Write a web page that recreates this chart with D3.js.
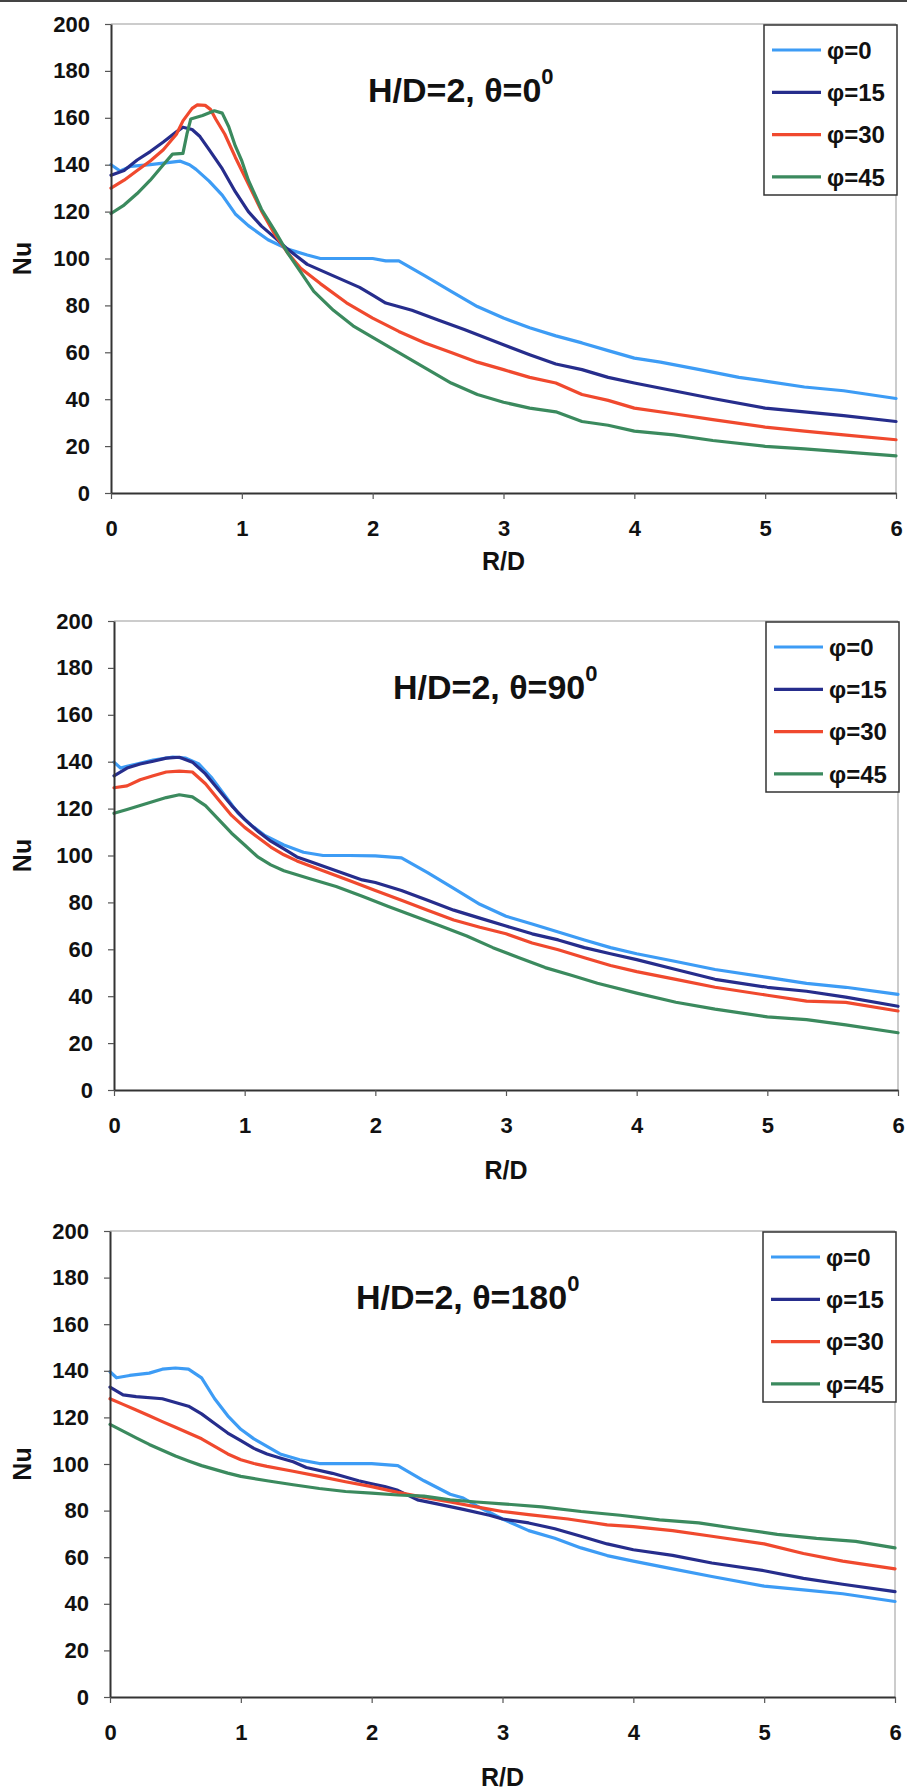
<!DOCTYPE html>
<html>
<head>
<meta charset="utf-8">
<script src="https://cdn.jsdelivr.net/npm/d3@7"></script>
<style>
  html, body { margin: 0; padding: 0; background: #fff; }
  svg { display: block; }
  text { font-family: "Liberation Sans", Arial, sans-serif; font-weight: bold; fill: #111; }
</style>
</head>
<body>
<div id="chart"></div>
<script>
// ---------- data ----------
const seriesNames = ["φ=0", "φ=15", "φ=30", "φ=45"];
const seriesColors = ["#3d9cf5", "#262d8c", "#f0492e", "#3b8a5e"];
const xTicks = [0, 1, 2, 3, 4, 5, 6];
const yTicks = [0, 20, 40, 60, 80, 100, 120, 140, 160, 180, 200];
const panelTitles = ["H/D=2, θ=0", "H/D=2, θ=90", "H/D=2, θ=180"];
const titleSup = "0";

// Panel 1: theta = 0
const p1_phi0 = [[0,140],[0.07,137.3],[0.15,139.3],[0.3,140],[0.45,141],[0.53,141.5],[0.6,140],[0.65,138],[0.75,133],[0.85,127],[0.95,119],[1.05,114],[1.2,108],[1.35,104],[1.5,101.5],[1.6,100],[1.8,100],[2.0,100],[2.1,99],[2.2,99],[2.4,92.6],[2.6,86],[2.8,79.5],[3.0,74.6],[3.2,70.5],[3.4,67],[3.6,64],[3.8,60.7],[4.0,57.5],[4.2,55.8],[4.5,52.6],[4.8,49.3],[5.0,47.7],[5.3,45.2],[5.6,43.6],[6.0,40.3]];
const p1_phi15 = [[0,135.5],[0.1,137.5],[0.2,142],[0.3,145.6],[0.4,149.7],[0.5,154],[0.55,156],[0.62,155],[0.68,152],[0.75,146.4],[0.85,138.3],[0.95,128.5],[1.05,120],[1.15,113.8],[1.25,109],[1.35,104],[1.5,97.5],[1.7,92.6],[1.9,87.7],[2.0,84.4],[2.1,81],[2.3,77.9],[2.5,73.8],[2.7,69.7],[3.0,63.2],[3.2,59],[3.4,55],[3.6,52.6],[3.8,49.3],[4.0,46.9],[4.3,43.6],[4.6,40.3],[5.0,36.2],[5.3,34.6],[5.6,33],[6.0,30.5]];
const p1_phi30 = [[0,130],[0.1,133.4],[0.2,137.5],[0.3,141.6],[0.4,146.4],[0.5,153],[0.55,158.7],[0.62,164],[0.66,165.5],[0.72,165.3],[0.76,163.6],[0.8,159.5],[0.87,153],[0.95,143.2],[1.05,131.8],[1.15,120.3],[1.25,110.5],[1.35,102.4],[1.45,95.8],[1.6,89.3],[1.8,81.1],[2.0,74.6],[2.2,68.9],[2.4,64],[2.6,59.9],[2.8,55.8],[3.0,52.6],[3.2,49.3],[3.4,46.9],[3.6,42],[3.8,39.5],[4.0,36.2],[4.3,33.8],[4.6,31.3],[5.0,28.1],[5.3,26.4],[5.6,24.8],[6.0,22.7]];
const p1_phi45 = [[0,119.2],[0.1,122.8],[0.2,127.7],[0.3,133.4],[0.4,140],[0.47,144.5],[0.55,144.8],[0.58,153],[0.61,159.5],[0.7,161],[0.79,163],[0.85,162],[0.9,156.2],[0.95,148],[1.0,141.6],[1.05,133.4],[1.15,121],[1.25,112],[1.35,102.4],[1.45,94.2],[1.55,86],[1.7,77.9],[1.85,71.3],[2.0,66.4],[2.2,59.9],[2.4,53.4],[2.6,46.9],[2.8,42],[3.0,38.7],[3.2,36.2],[3.4,34.6],[3.6,30.5],[3.8,28.9],[4.0,26.4],[4.3,24.8],[4.6,22.4],[5.0,19.9],[5.3,18.8],[5.6,17.5],[6.0,15.8]];

// Panel 2: theta = 90
const p2_phi0 = [[0,139.8],[0.05,137.3],[0.1,138],[0.3,140.7],[0.45,142],[0.55,141.5],[0.65,139],[0.75,133],[0.85,125.5],[0.95,118],[1.05,112.9],[1.15,108.7],[1.3,104.5],[1.45,101.4],[1.6,100],[1.8,100],[2.0,99.8],[2.2,99],[2.4,92.7],[2.6,86],[2.8,79.2],[3.0,74.1],[3.2,70.8],[3.4,67.4],[3.6,64],[3.8,60.7],[4.0,58.1],[4.3,54.8],[4.6,51.4],[5.0,48],[5.3,45.5],[5.6,43.8],[6.0,40.8]];
const p2_phi15 = [[0,134],[0.1,137.3],[0.2,139],[0.3,140.2],[0.4,141.5],[0.5,141.9],[0.6,139.8],[0.7,134.8],[0.8,128],[0.9,121.3],[1.0,115.4],[1.1,110.4],[1.2,106.1],[1.3,102.8],[1.4,99.4],[1.5,97.4],[1.7,93.5],[1.9,89.6],[2.0,88.5],[2.2,85.1],[2.4,80.9],[2.6,76.7],[2.8,73.3],[3.0,69.9],[3.2,66.6],[3.4,64],[3.6,60.7],[3.8,58.1],[4.0,55.6],[4.3,51.4],[4.6,47.2],[5.0,43.8],[5.3,42.1],[5.6,39.6],[6.0,35.7]];
const p2_phi30 = [[0,128.9],[0.1,129.7],[0.2,132.3],[0.3,134],[0.4,135.6],[0.5,136],[0.6,135.6],[0.7,130.6],[0.8,123.8],[0.9,117.1],[1.0,112],[1.1,107.8],[1.2,103.6],[1.3,100.3],[1.4,97.7],[1.6,93.5],[1.8,89.3],[2.0,85.1],[2.2,80.9],[2.4,76.7],[2.6,72.5],[2.8,69.4],[3.0,66.6],[3.2,62.7],[3.4,59.8],[3.6,56.4],[3.8,53.1],[4.0,50.5],[4.3,47.2],[4.6,43.8],[5.0,40.4],[5.3,37.9],[5.6,37.4],[6.0,33.7]];
const p2_phi45 = [[0,118],[0.1,119.6],[0.2,121.3],[0.3,123],[0.4,124.7],[0.5,125.9],[0.6,125],[0.7,121.3],[0.8,115.4],[0.9,109.5],[1.0,104.5],[1.1,99.4],[1.2,96],[1.3,93.5],[1.5,90.1],[1.7,86.8],[1.9,82.6],[2.1,78.3],[2.3,74.1],[2.5,69.9],[2.7,65.7],[2.9,60.7],[3.1,56.4],[3.3,52.2],[3.5,48.9],[3.7,45.5],[4.0,41.3],[4.3,37.4],[4.6,34.5],[5.0,31.2],[5.3,30],[5.6,27.8],[6.0,24.4]];

// Panel 3: theta = 180
const p3_phi0 = [[0,139.6],[0.05,137],[0.15,138],[0.3,139],[0.4,140.7],[0.5,141.2],[0.6,140.7],[0.7,137],[0.8,128],[0.9,120.7],[1.0,114.9],[1.1,110.8],[1.2,107.6],[1.3,104.3],[1.45,101.8],[1.6,100.2],[1.8,100.2],[2.0,100.2],[2.2,99.3],[2.4,92.8],[2.6,87],[2.7,85.4],[2.8,82.1],[3.0,76.4],[3.2,71.4],[3.4,68.1],[3.6,64],[3.8,60.7],[4.0,58.3],[4.3,55],[4.6,51.7],[5.0,47.6],[5.3,46],[5.6,44.3],[6.0,41]];
const p3_phi15 = [[0,133],[0.1,129.7],[0.2,128.9],[0.4,128],[0.5,126.4],[0.6,124.8],[0.7,121.5],[0.8,117.4],[0.9,113.3],[1.0,110],[1.1,106.7],[1.2,104.3],[1.3,102.6],[1.4,101],[1.5,98.5],[1.7,96],[1.9,92.8],[2.0,91.5],[2.1,90.3],[2.2,88.7],[2.35,84.6],[2.5,82.9],[2.7,80.5],[2.9,78],[3.0,76.4],[3.2,74.7],[3.4,72.2],[3.6,69],[3.8,65.7],[4.0,63.2],[4.3,60.8],[4.6,57.5],[5.0,54.2],[5.3,50.9],[5.6,48.4],[6.0,45.2]];
const p3_phi30 = [[0,128],[0.1,125.6],[0.2,123.2],[0.3,120.7],[0.4,118.2],[0.5,115.8],[0.6,113.3],[0.7,110.8],[0.8,107.6],[0.9,104.3],[1.0,101.8],[1.1,100.2],[1.2,99],[1.4,96.9],[1.6,94.7],[1.8,92.4],[2.0,90.3],[2.2,87.8],[2.4,85.7],[2.6,83.7],[2.8,81.6],[3.0,79.6],[3.2,78.3],[3.5,76.4],[3.8,73.9],[4.0,73.1],[4.3,71.4],[4.6,69],[5.0,65.7],[5.3,61.6],[5.6,58.3],[6.0,55]];
const p3_phi45 = [[0,117],[0.1,114.1],[0.2,111.2],[0.3,108.4],[0.4,105.9],[0.5,103.4],[0.6,101.3],[0.7,99.3],[0.8,97.7],[0.9,96.1],[1.0,94.7],[1.2,92.8],[1.4,91.1],[1.6,89.5],[1.8,88.2],[2.0,87.5],[2.2,86.7],[2.4,86.2],[2.6,84.6],[2.8,83.7],[3.0,82.9],[3.3,81.6],[3.6,79.6],[3.9,78],[4.2,76],[4.5,74.7],[4.8,72.2],[5.1,69.8],[5.4,68.1],[5.7,66.8],[6.0,64]];

const panelData = [
  [p1_phi0, p1_phi15, p1_phi30, p1_phi45],
  [p2_phi0, p2_phi15, p2_phi30, p2_phi45],
  [p3_phi0, p3_phi15, p3_phi30, p3_phi45]
];

// ---------- layout ----------
const W = 907, H = 1790;
const layouts = [
  { left: 111, right: 896, top: 24, bottom: 493, titleX: 368, xLabelDy: 77 },
  { left: 114, right: 898, top: 621, bottom: 1090, titleX: 393, xLabelDy: 89 },
  { left: 110, right: 895, top: 1231, bottom: 1697, titleX: 356, xLabelDy: 89 }
];

const svg = d3.select("#chart").append("svg").attr("width", W).attr("height", H);
svg.append("rect").attr("x", 0).attr("y", 0).attr("width", W).attr("height", H).attr("fill", "#fff");
svg.append("rect").attr("x", 0).attr("y", 0).attr("width", W).attr("height", 2).attr("fill", "#444");

layouts.forEach((L, pi) => {
  const x = d3.scaleLinear().domain([0, 6]).range([L.left, L.right]);
  const y = d3.scaleLinear().domain([0, 200]).range([L.bottom, L.top]);
  const g = svg.append("g");

  // light top/right frame
  g.append("line").attr("x1", L.left).attr("x2", L.right).attr("y1", L.top).attr("y2", L.top)
    .attr("stroke", "#999").attr("stroke-width", 1);
  g.append("line").attr("x1", L.right).attr("x2", L.right).attr("y1", L.top).attr("y2", L.bottom)
    .attr("stroke", "#999").attr("stroke-width", 1);

  // lines
  const line = d3.line().x(d => x(d[0])).y(d => y(d[1]));
  panelData[pi].forEach((s, si) => {
    g.append("path").datum(s).attr("d", line).attr("fill", "none")
      .attr("stroke", seriesColors[si]).attr("stroke-width", 3.2)
      .attr("stroke-linejoin", "round").attr("stroke-linecap", "round");
  });

  // axes
  const ya = g.append("g").attr("transform", `translate(${L.left},0)`)
    .call(d3.axisLeft(y).tickValues(yTicks).tickSize(6).tickSizeOuter(0).tickPadding(15));
  const xa = g.append("g").attr("transform", `translate(0,${L.bottom})`)
    .call(d3.axisBottom(x).tickValues(xTicks).tickSize(6).tickSizeOuter(0).tickPadding(21).tickFormat(d3.format("d")));
  [ya, xa].forEach(a => {
    a.select(".domain").attr("stroke", "#333").attr("stroke-width", 2);
    a.selectAll(".tick line").attr("stroke", "#555").attr("stroke-width", 1.2);
    a.selectAll(".tick text").attr("font-size", 22).attr("font-family", "'Liberation Sans', Arial, sans-serif")
      .attr("font-weight", "bold").attr("fill", "#111");
  });

  // axis titles
  g.append("text").attr("x", (L.left + L.right) / 2).attr("y", L.bottom + L.xLabelDy)
    .attr("text-anchor", "middle").attr("font-size", 25).text("R/D");
  g.append("text").attr("transform", `translate(31,${(L.top + L.bottom) / 2}) rotate(-90)`)
    .attr("text-anchor", "middle").attr("font-size", 25).text("Nu");

  // panel title
  const t = g.append("text").attr("x", L.titleX).attr("y", L.top + 78).attr("font-size", 34);
  t.append("tspan").text(panelTitles[pi]);
  t.append("tspan").attr("dy", -18).attr("font-size", 22).text(titleSup);

  // legend
  const bx = L.right - 132, by = L.top + 1, bw = 133, bh = 170;
  const lg = g.append("g");
  lg.append("rect").attr("x", bx).attr("y", by).attr("width", bw).attr("height", bh)
    .attr("fill", "#fff").attr("stroke", "#333").attr("stroke-width", 1.5);
  seriesNames.forEach((n, si) => {
    const yy = L.top + 26 + si * 42.3;
    lg.append("line").attr("x1", bx + 8).attr("x2", bx + 57).attr("y1", yy).attr("y2", yy)
      .attr("stroke", seriesColors[si]).attr("stroke-width", 3.2);
    lg.append("text").attr("x", bx + 63).attr("y", yy).attr("dy", "0.36em")
      .attr("font-size", 24).text(n);
  });
});
</script>
</body>
</html>
